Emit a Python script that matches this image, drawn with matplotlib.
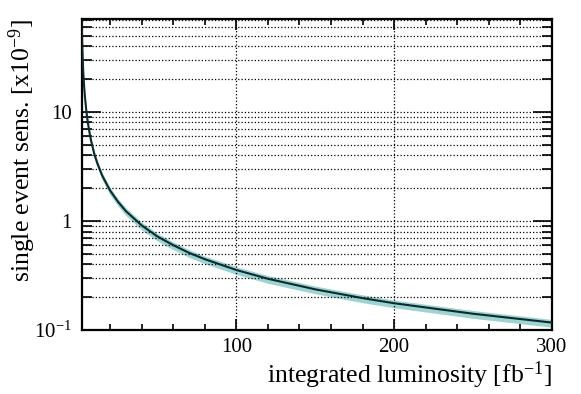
import matplotlib
matplotlib.use("Agg")
import matplotlib.pyplot as plt
from matplotlib.ticker import FixedLocator, FixedFormatter, MultipleLocator, NullFormatter

plt.rcParams['font.family'] = ['Liberation Serif', 'DejaVu Serif']
plt.rcParams['mathtext.fontset'] = 'custom'
plt.rcParams['mathtext.rm'] = 'Liberation Serif'
plt.rcParams['mathtext.it'] = 'Liberation Serif:italic'

# integrated luminosity [fb^-1] and single event sensitivity [x1e-9]
lumi = [2.0, 2.3, 2.6, 3.0, 3.5, 4.0, 5.0, 6.0, 7.0, 8.0, 10, 12, 15, 20, 25, 30,
        40, 50, 60, 70, 80, 100, 120, 150, 180, 200, 250, 300]
sens = [70, 44, 32, 23, 17.5, 14, 10, 7.8, 6.4, 5.4, 4.1, 3.35, 2.6, 1.9, 1.5, 1.23,
        0.91, 0.72, 0.60, 0.51, 0.446, 0.355, 0.295, 0.236, 0.196, 0.176, 0.141, 0.117]
sens_lo = [63.7, 40.0, 29.1, 20.9, 15.9, 12.7, 9.1, 7.1, 5.82, 4.91, 3.73, 3.05, 2.37, 1.73, 1.37, 1.12,
           0.828, 0.655, 0.546, 0.464, 0.406, 0.323, 0.268, 0.215, 0.178, 0.160, 0.128, 0.106]
sens_hi = [74.9, 47.1, 34.2, 24.6, 18.7, 15.0, 10.7, 8.35, 6.85, 5.78, 4.39, 3.58, 2.78, 2.03, 1.6, 1.32,
           0.974, 0.77, 0.642, 0.546, 0.477, 0.38, 0.316, 0.253, 0.21, 0.188, 0.151, 0.125]

y_major = [0.1, 1, 10]
y_major_labels = ['$10^{-1}$', '1', '10']
y_minor = [0.2, 0.3, 0.4, 0.5, 0.6, 0.7, 0.8, 0.9,
           2, 3, 4, 5, 6, 7, 8, 9,
           20, 30, 40, 50, 60, 70]

fig = plt.figure(figsize=(5.81, 3.94), dpi=100)
ax = fig.add_axes([0.1406, 0.1624, 0.8094, 0.7894])

ax.fill_between(lumi, sens_lo, sens_hi, color='#9fd3d3', lw=0, zorder=2)
ax.plot(lumi, sens, color='#0b2b2b', lw=1.5, zorder=3)

ax.set_yscale('log')
ax.set_xlim(2, 300)
ax.set_ylim(0.1, 71)

ax.xaxis.set_major_locator(FixedLocator([100, 200, 300]))
ax.xaxis.set_minor_locator(MultipleLocator(20))
ax.yaxis.set_major_locator(FixedLocator(y_major))
ax.yaxis.set_major_formatter(FixedFormatter(y_major_labels))
ax.yaxis.set_minor_locator(FixedLocator(y_minor))
ax.yaxis.set_minor_formatter(NullFormatter())

ax.tick_params(which='both', direction='in', top=True, right=True, labelsize=15, width=1.2)
ax.tick_params(axis='x', which='major', length=8, pad=6)
ax.tick_params(axis='x', which='minor', length=4)
ax.tick_params(axis='y', which='major', length=14, pad=7)
ax.tick_params(axis='y', which='minor', length=7)

for s in ax.spines.values():
    s.set_linewidth(1.6)

ax.grid(True, which='major', axis='x', color='black', ls=':', lw=0.9)
ax.grid(True, which='both', axis='y', color='black', ls=':', lw=0.9)
ax.set_axisbelow(False)

ax.set_xlabel('integrated luminosity [fb$^{\\mathregular{-1}}$]', fontsize=18.5, ha='right', x=1.0)
ax.set_ylabel('single event sens. [x10$^{\\mathregular{-9}}$]', fontsize=18.5, ha='right', y=1.0)
ax.xaxis.set_label_coords(1.0, -0.095)
ax.yaxis.set_label_coords(-0.092, 1.0)

fig.savefig('out.png', dpi=100)
